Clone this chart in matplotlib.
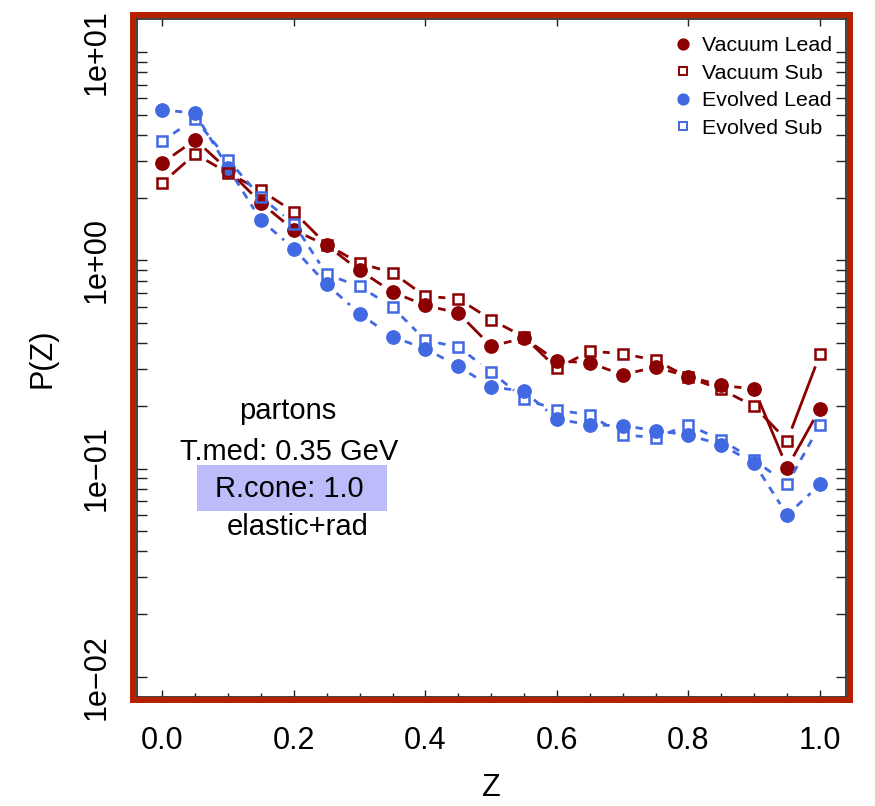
import numpy as np
import matplotlib
matplotlib.use("Agg")
import matplotlib.pyplot as plt
from matplotlib.patches import Rectangle
from matplotlib.lines import Line2D

plt.rcParams['font.family'] = ['Liberation Sans', 'DejaVu Sans']

# fragmentation values
z = [0.0, 0.05, 0.1, 0.15, 0.2, 0.25, 0.3, 0.35, 0.4, 0.45, 0.5,
     0.55, 0.6, 0.65, 0.7, 0.75, 0.8, 0.85, 0.9, 0.95, 1.0]
vac_lead = [2.94, 3.80, 2.72, 1.89, 1.40, 1.18, 0.895, 0.705, 0.608, 0.559, 0.387,
            0.424, 0.329, 0.322, 0.282, 0.308, 0.276, 0.251, 0.241, 0.101, 0.194]
vac_sub = [2.36, 3.25, 2.63, 2.17, 1.71, 1.19, 0.97, 0.873, 0.672, 0.655, 0.519,
           0.429, 0.303, 0.366, 0.357, 0.331, 0.274, 0.240, 0.199, 0.136, 0.354]
evo_lead = [5.30, 5.09, 2.78, 1.56, 1.14, 0.767, 0.555, 0.429, 0.377, 0.310, 0.247,
            0.235, 0.173, 0.162, 0.161, 0.152, 0.145, 0.130, 0.106, 0.0598, 0.0840]
evo_sub = [3.76, 4.78, 3.04, 2.01, 1.50, 0.857, 0.750, 0.597, 0.413, 0.384, 0.291,
           0.217, 0.191, 0.181, 0.145, 0.141, 0.162, 0.137, 0.110, 0.084, 0.162]

x_major = [0.0, 0.2, 0.4, 0.6, 0.8, 1.0]
x_labels = ["0.0", "0.2", "0.4", "0.6", "0.8", "1.0"]
y_major = [0.01, 0.1, 1.0, 10.0]
y_labels = ["1e\u221202", "1e\u221201", "1e+00", "1e+01"]
notes = ["partons", "T.med: 0.35 GeV", "R.cone: 1.0", "elastic+rad"]

DARKRED = '#8b0000'
ROYAL = '#4169e1'
W, H = 875, 806

fig = plt.figure(figsize=(W / 100, H / 100), dpi=100)
# axes box in pixels: left 137, right 846, top 18.5, bottom 697
ax = fig.add_axes([137 / W, 1 - 697 / H, (846 - 137) / W, (697 - 18.5) / H])
ax.set_yscale('log')
ax.set_xlim(-0.0385, 1.0395)
ax.set_ylim(10 ** -2.0976, 10 ** 1.1624)


# R style type="b": lines with a gap around every point
def draw_b(x, y, color, ls, gap=13, z=2):
    pts = ax.transData.transform(np.column_stack([x, y]))
    inv = ax.transData.inverted()
    for p0, p1 in zip(pts[:-1], pts[1:]):
        d = p1 - p0
        L = np.hypot(d[0], d[1])
        if L <= 2 * gap:
            continue
        u = d / L
        seg = inv.transform(np.array([p0 + u * gap, p1 - u * gap]))
        if ls == 'dashed':
            ax.plot(seg[:, 0], seg[:, 1], color=color, lw=2.0, dashes=(2.8, 2.6),
                    zorder=z, solid_capstyle='butt', dash_capstyle='butt')
        else:
            ax.plot(seg[:, 0], seg[:, 1], color=color, lw=2.0, zorder=z,
                    solid_capstyle='butt')


draw_b(z, vac_lead, DARKRED, 'solid', z=2)
ax.plot(z, vac_lead, ls='none', marker='o', ms=9.6, color=DARKRED, mec=DARKRED, zorder=3)
draw_b(z, evo_lead, ROYAL, 'dashed', z=4)
ax.plot(z, evo_lead, ls='none', marker='o', ms=9.6, color=ROYAL, mec=ROYAL, zorder=5)
draw_b(z, vac_sub, DARKRED, 'solid', z=6)
ax.plot(z, vac_sub, ls='none', marker='s', ms=7.3, mfc='none', mec=DARKRED, mew=1.8, zorder=7)
draw_b(z, evo_sub, ROYAL, 'dashed', z=8)
ax.plot(z, evo_sub, ls='none', marker='s', ms=7.3, mfc='none', mec=ROYAL, mew=1.8, zorder=9)

# ticks
ax.set_xticks(x_major)
ax.set_xticklabels(x_labels)
ax.set_xticks(z, minor=True)
ax.set_yticks(y_major)
ax.set_yticklabels(y_labels)
y_minor = [m * d for d in (0.01, 0.1, 1.0) for m in range(2, 10)]
ax.set_yticks(y_minor, minor=True)
ax.yaxis.set_minor_formatter(matplotlib.ticker.NullFormatter())

ax.tick_params(axis='both', which='both', direction='in', colors='#222222',
               labelcolor='black', labelsize=22, width=1.0)
ax.tick_params(axis='x', which='both', pad=21)
ax.tick_params(axis='y', which='both', pad=18)
ax.tick_params(axis='x', which='major', length=5.2, top=True)
ax.tick_params(axis='x', which='minor', length=3.0, top=False)
ax.tick_params(axis='y', which='both', length=7.2, right=True)
for lab in ax.get_yticklabels():
    lab.set_rotation(90)
    lab.set_va('center')

for s in ax.spines.values():
    s.set_color('#333333')
    s.set_linewidth(1.3)

ax.set_xlabel('Z', fontsize=22, labelpad=12)
ax.set_ylabel('P(Z)', fontsize=22, labelpad=18)

# legend
handles = [
    Line2D([], [], ls='none', marker='o', ms=7.8, color=DARKRED),
    Line2D([], [], ls='none', marker='s', ms=6.0, mfc='none', mec=DARKRED, mew=1.4),
    Line2D([], [], ls='none', marker='o', ms=7.8, color=ROYAL),
    Line2D([], [], ls='none', marker='s', ms=6.0, mfc='none', mec=ROYAL, mew=1.4),
]
ax.legend(handles, ["Vacuum Lead", "Vacuum Sub", "Evolved Lead", "Evolved Sub"],
          loc='upper left', bbox_to_anchor=(672 / W, 1 - 36 / H),
          bbox_transform=fig.transFigure, frameon=False, fontsize=15.4,
          handlelength=1.0, handletextpad=0.38, labelspacing=0.4,
          borderpad=0, borderaxespad=0, numpoints=1)

# annotation block
fig.add_artist(Rectangle((197 / W, 1 - 511 / H), 190 / W, 46 / H,
                         transform=fig.transFigure, facecolor='#bcbcfb',
                         edgecolor='none', zorder=1))
note_pos = [(288, 411), (289, 452), (289.5, 489), (298, 527)]
for txt, (px, py) in zip(notes, note_pos):
    fig.text(px / W, 1 - py / H, txt, fontsize=21, ha='center', va='center', zorder=3)

# red outer frame
fig.add_artist(Rectangle((133 / W, 1 - 700 / H), (850 - 133) / W, (700 - 14.6) / H,
                         transform=fig.transFigure, fill=False,
                         edgecolor='#b32100', linewidth=4.3, zorder=10))

fig.savefig('out.png', dpi=100)
